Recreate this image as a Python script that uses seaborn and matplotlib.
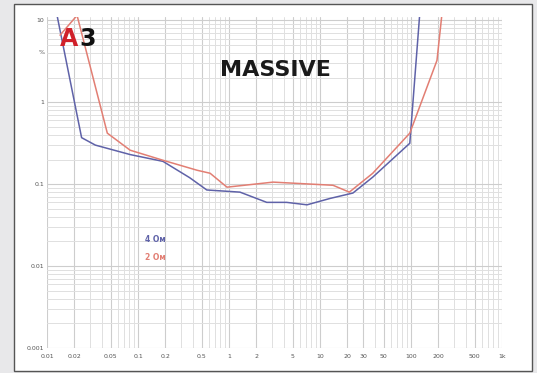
import numpy as np
import pandas as pd
import matplotlib
matplotlib.use("Agg")
import matplotlib.pyplot as plt
from matplotlib.patches import Rectangle
from matplotlib.ticker import FixedLocator, NullFormatter
import seaborn as sns

# ---- data (output power W, THD %) ----
power_4ohm = [0.013, 0.024, 0.034, 0.082, 0.188, 0.37, 0.57, 1.32, 2.6, 4.3, 7.2, 12.9, 23, 38, 97, 124]
thd_4ohm = [11, 0.37, 0.30, 0.23, 0.19, 0.12, 0.085, 0.08, 0.06, 0.06, 0.056, 0.067, 0.078, 0.122, 0.316, 11]

power_2ohm = [0.0139, 0.0214, 0.046, 0.082, 0.188, 0.446, 0.62, 0.95, 3.05, 13.9, 21, 38, 97, 193, 217]
thd_2ohm = [6.6, 11.5, 0.42, 0.26, 0.196, 0.148, 0.136, 0.092, 0.106, 0.097, 0.08, 0.136, 0.42, 3.25, 11]

x_ticks = [0.01, 0.02, 0.05, 0.1, 0.2, 0.5, 1, 2, 5, 10, 20, 30, 50, 100, 200, 500, 1000]
x_labels = ["0.01", "0.02", "0.05", "0.1", "0.2", "0.5", "1", "2", "5", "10", "20", "30", "50", "100", "200", "500", "1k"]
y_ticks = [0.001, 0.01, 0.1, 1, 10]
y_labels = ["0.001", "0.01", "0.1", "1", "10"]

series_names = ["4 Ом", "2 Ом"]
colors = ["#5f62a8", "#e27e73"]

df = pd.concat([
    pd.DataFrame({"P": power_4ohm, "THD": thd_4ohm, "s": series_names[0]}),
    pd.DataFrame({"P": power_2ohm, "THD": thd_2ohm, "s": series_names[1]}),
])

sns.set_style("white")
plt.rcParams["font.family"] = ["DejaVu Sans"]

W, H = 537, 373
fig = plt.figure(figsize=(W / 100, H / 100), dpi=100)
fig.patch.set_facecolor("#e8e8ea")

bg = fig.add_axes([0, 0, 1, 1], zorder=-10)
bg.set_axis_off()
bg.set_xlim(0, W)
bg.set_ylim(H, 0)
bg.add_patch(Rectangle((14, 4), 532 - 14, 371 - 4, facecolor="white",
                       edgecolor="#555555", linewidth=1.0))

ax = fig.add_axes([47 / W, 1 - 348 / H, (502 - 47) / W, (348 - 17) / H], zorder=1)
ax.patch.set_alpha(0)
ax.set_xscale("log")
ax.set_yscale("log")
ax.set_xlim(0.01, 1000)
ax.set_ylim(0.001, 11)

# grid
minor_x = [m * 10.0 ** e for e in range(-2, 3) for m in range(2, 10)]
minor_y = [m * 10.0 ** e for e in range(-3, 1) for m in range(2, 10)]
ax.xaxis.set_minor_locator(FixedLocator(minor_x))
ax.yaxis.set_minor_locator(FixedLocator(minor_y))
ax.xaxis.set_minor_formatter(NullFormatter())
ax.yaxis.set_minor_formatter(NullFormatter())
ax.grid(True, which="minor", color="#e0e0e0", linewidth=0.7)
ax.grid(True, which="major", color="#cdcdcd", linewidth=0.8)
ax.set_axisbelow(True)

for name, c in zip(series_names, colors):
    sub = df[df["s"] == name]
    sns.lineplot(data=sub, x="P", y="THD", sort=False, estimator=None,
                 color=c, linewidth=1.1, ax=ax, legend=False)

ax.set_xticks(x_ticks)
ax.set_xticklabels(x_labels)
ax.set_yticks(y_ticks)
ax.set_yticklabels(y_labels)
ax.tick_params(axis="both", which="both", length=0, labelsize=4.5, colors="#555555")
ax.tick_params(axis="x", pad=4)
ax.tick_params(axis="y", pad=2)
ax.set_xlabel("")
ax.set_ylabel("")
for sp in ax.spines.values():
    sp.set_visible(False)

# unit label
fig.text(42 / W, 1 - 52 / H, "%", fontsize=4.5, color="#555555", ha="center", va="center")

# title
fig.text(275 / W, 1 - 70 / H, "MASSIVE", fontsize=16, fontweight="bold",
         color="#1a1a1a", ha="center", va="center")

# logo
fig.text(60 / W, 1 - 39 / H, "A", fontsize=17, fontweight="bold", color="#d0202a",
         ha="left", va="center", zorder=5)
fig.text(79 / W, 1 - 39 / H, "3", fontsize=17, fontweight="bold", color="#111111",
         ha="left", va="center", zorder=5)

# legend labels
fig.text(145 / W, 1 - 240 / H, series_names[0], fontsize=5.5, fontweight="bold",
         color=colors[0], ha="left", va="center")
fig.text(145 / W, 1 - 257 / H, series_names[1], fontsize=5.5, fontweight="bold",
         color=colors[1], ha="left", va="center")

fig.savefig("out.png", dpi=100, facecolor=fig.get_facecolor())
